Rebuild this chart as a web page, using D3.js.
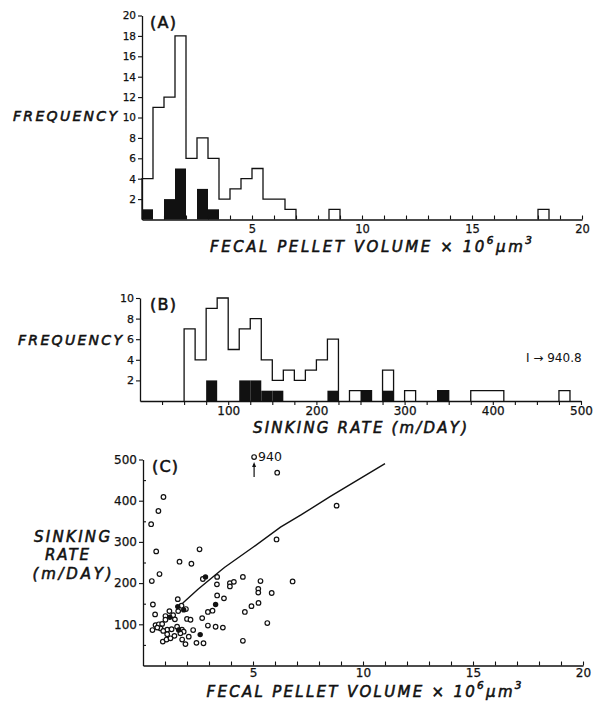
<!DOCTYPE html>
<html>
<head>
<meta charset="utf-8">
<script src="https://cdn.jsdelivr.net/npm/d3@7"></script>
<style>
  body { margin: 0; background: #fff; }
  svg { display: block; }
  .tick text { font-family: "DejaVu Sans", sans-serif; fill: #111; stroke: #111; stroke-width: 0.25px; }
  .title { font-family: "DejaVu Sans", sans-serif; font-style: italic; fill: #111; stroke: #111; stroke-width: 0.55px; }
</style>
</head>
<body>
<script>
// (A) fecal pellet volume histogram, bins of 0.5 x 10^6 um^3
const volBinWidth = 0.5;
const volBinLo = [0, 0.5, 1, 1.5, 2, 2.5, 3, 3.5, 4, 4.5, 5, 5.5, 6, 6.5, 8.5, 18];
const volAll   = [4, 11, 12, 18, 6, 8, 6, 2, 3, 4, 5, 2, 2, 1, 1, 1];
const volBlack = [1, 0, 2, 5, 0, 3, 1, 0, 0, 0, 0, 0, 0, 0, 0, 0];

// (B) sinking rate histogram, bins of 12.5 m/day
const rateBinWidth = 12.5;
const rateBinLo = [50, 62.5, 75, 87.5, 100, 112.5, 125, 137.5, 150, 162.5, 175, 187.5, 200, 212.5,
  237.5, 250, 275, 300, 337.5, 375, 387.5, 400, 475];
const rateAll   = [7, 4, 9, 10, 5, 7, 8, 4, 2, 3, 2, 3, 4, 6, 1, 1, 3, 1, 1, 1, 1, 1, 1];
const rateBlack = [0, 0, 2, 0, 0, 2, 2, 1, 1, 0, 0, 0, 0, 1, 0, 1, 1, 0, 1, 0, 0, 0, 0];

// (C) sinking rate vs volume
const openPoints = [
  [6.1, 468], [0.93, 409], [0.70, 375], [0.37, 343], [0.60, 277], [0.75, 222], [0.40, 205],
  [1.66, 252], [2.2, 247], [2.57, 282], [2.72, 210], [3.37, 215], [3.36, 197], [3.37, 170],
  [3.68, 163], [2.95, 130], [3.16, 133], [2.69, 115], [2.95, 97], [3.3, 94], [3.63, 92],
  [2.43, 55], [2.75, 54], [3.95, 200], [3.95, 192], [4.13, 203], [4.54, 215], [4.63, 130],
  [4.54, 60], [4.93, 144], [5.24, 186], [5.24, 177], [5.34, 205], [5.25, 152], [5.85, 176],
  [5.65, 103], [6.8, 204], [6.07, 306], [8.8, 388],
  [0.45, 148], [0.55, 124], [1.58, 161], [1.2, 132], [1.75, 145], [1.95, 137], [1.37, 122],
  [1.02, 120], [2.0, 113], [2.16, 111], [0.43, 86], [0.57, 98], [0.72, 100], [0.87, 101],
  [1.02, 111], [0.8, 90], [1.1, 87], [1.3, 88], [1.55, 94], [1.77, 87], [1.85, 82], [2.28, 86],
  [0.9, 58], [1.07, 63], [1.25, 66], [1.43, 72], [1.78, 63], [1.93, 52], [2.08, 70], [1.1, 76],
  [1.7, 78], [0.92, 84], [1.6, 132], [1.45, 112], [0.65, 92]
];
const filledPoints = [[2.84, 215], [3.3, 148], [2.6, 75], [1.22, 117], [1.58, 143], [1.85, 135], [1.62, 86]];
const outlier = { x: 5.05, value: 940, plotAt: 506 };
const fitLine = [[1.8, 151], [2.5, 185], [3.45, 227], [3.7, 238], [5, 287], [6.25, 336], [7.2, 366], [8.5, 410], [11, 490]];

const volTicks = d3.range(1, 21);
const volLabels = [5, 10, 15, 20];
const freqATicks = [2, 4, 6, 8, 10, 12, 14, 16, 18, 20];
const freqBTicks = [2, 4, 6, 8, 10];
const rateTicks = d3.range(25, 501, 25);
const rateLabels = [100, 200, 300, 400, 500];
const sinkTicks = d3.range(50, 501, 50);
const sinkLabels = [100, 200, 300, 400, 500];

const ink = "#111";

let svg = d3.select("body").append("svg")
  .attr("width", 596)
  .attr("height", 703);

svg.append("rect").attr("width", 596).attr("height", 703).attr("fill", "#fff");

// scales
let xA = d3.scaleLinear().domain([0, 20]).range([142, 582]);
let yA = d3.scaleLinear().domain([0, 20]).range([219.5, 15.5]);
let xB = d3.scaleLinear().domain([0, 500]).range([140, 581]);
let yB = d3.scaleLinear().domain([0, 10]).range([401, 298]);
let xC = d3.scaleLinear().domain([0, 20]).range([143, 583]);
let yC = d3.scaleLinear().domain([0, 500]).range([665.5, 459.5]);

function styleAxis(g, size) {
  g.selectAll("path").attr("stroke", ink).attr("stroke-width", 1.3);
  g.selectAll("line").attr("stroke", ink).attr("stroke-width", 1.1);
  g.selectAll("text").style("font-size", size + "px");
}

function stepPath(lo, counts, w, x, y) {
  let d = "";
  for (let i = 0; i < lo.length; i++) {
    const newRun = i === 0 || Math.abs(lo[i] - (lo[i - 1] + w)) > 1e-9;
    if (newRun) {
      if (i > 0) d += "V" + y(0);
      d += "M" + x(lo[i]) + "," + y(0);
    }
    d += "V" + y(counts[i]) + "H" + x(lo[i] + w);
  }
  return d + "V" + y(0);
}

function histogram(lo, all, black, w, x, y) {
  let bars = lo.map((d, i) => ({ lo: d, n: black[i] })).filter(d => d.n > 0);
  svg.append("g").selectAll("rect")
    .data(bars)
    .enter().append("rect")
    .attr("x", d => x(d.lo))
    .attr("width", d => x(d.lo + w) - x(d.lo))
    .attr("y", d => y(d.n))
    .attr("height", d => y(0) - y(d.n))
    .attr("fill", ink);
  svg.append("path")
    .attr("d", stepPath(lo, all, w, x, y))
    .attr("fill", "none")
    .attr("stroke", ink)
    .attr("stroke-width", 1.3);
}

function title(x, y, size, len, parts) {
  let t = svg.append("text")
    .attr("class", "title")
    .attr("x", x)
    .attr("y", y)
    .attr("text-anchor", "middle")
    .attr("dominant-baseline", "middle")
    .style("font-size", size + "px");
  if (len) t.attr("textLength", len).attr("lengthAdjust", "spacing");
  parts.forEach(p => {
    let s = t.append("tspan").text(p.text);
    if (p.sup) s.attr("baseline-shift", "super").style("font-size", (size * 0.7) + "px");
  });
  return t;
}

const volumeTitle = [
  { text: "FECAL PELLET VOLUME × 10" }, { text: "6", sup: true }, { text: "µm" }, { text: "3", sup: true }
];

// ---------- panel A ----------
histogram(volBinLo, volAll, volBlack, volBinWidth, xA, yA);

svg.append("g")
  .attr("transform", "translate(" + xA(0) + ",0)")
  .call(d3.axisLeft(yA).tickValues(freqATicks).tickSize(4).tickSizeOuter(0).tickPadding(2))
  .call(g => styleAxis(g, 10.5));

svg.append("g")
  .attr("transform", "translate(0," + yA(0) + ")")
  .call(d3.axisBottom(xA).tickValues(volTicks).tickSize(-4).tickSizeOuter(0).tickPadding(5)
    .tickFormat(d => volLabels.includes(d) ? d : ""))
  .call(g => styleAxis(g, 11.5));

title(163, 23, 16, 26, [{ text: "(A)" }]).style("font-style", "normal");
title(65, 117, 14, 104, [{ text: "FREQUENCY" }]);
title(371, 247, 15, 322, volumeTitle);

// ---------- panel B ----------
histogram(rateBinLo, rateAll, rateBlack, rateBinWidth, xB, yB);

svg.append("g")
  .attr("transform", "translate(" + xB(0) + ",0)")
  .call(d3.axisLeft(yB).tickValues(freqBTicks).tickSize(4).tickSizeOuter(0).tickPadding(2))
  .call(g => styleAxis(g, 11));

svg.append("g")
  .attr("transform", "translate(0," + yB(0) + ")")
  .call(d3.axisBottom(xB).tickValues(rateTicks).tickSize(4).tickSizeOuter(0).tickPadding(1)
    .tickFormat(d => rateLabels.includes(d) ? d : ""))
  .call(g => styleAxis(g, 12));

title(163, 305, 16, 26, [{ text: "(B)" }]).style("font-style", "normal");
title(70, 341, 14, 104, [{ text: "FREQUENCY" }]);
title(360, 428, 15, 214, [{ text: "SINKING RATE (m/DAY)" }]);

svg.append("text")
  .attr("x", 526)
  .attr("y", 358)
  .attr("dominant-baseline", "middle")
  .style("font-family", "DejaVu Sans, sans-serif")
  .style("font-size", "12px")
  .attr("fill", ink)
  .text("I → " + "940.8");

// ---------- panel C ----------
svg.append("g")
  .attr("transform", "translate(" + xC(0) + ",0)")
  .call(d3.axisLeft(yC).tickValues(sinkTicks).tickSize(4).tickSizeOuter(0).tickPadding(2)
    .tickFormat(d => sinkLabels.includes(d) ? d : ""))
  .call(g => g.selectAll(".tick").filter(d => !sinkLabels.includes(d)).select("line").attr("x2", 3))
  .call(g => styleAxis(g, 12));

svg.append("g")
  .attr("transform", "translate(0," + yC(0) + ")")
  .call(d3.axisBottom(xC).tickValues(volTicks).tickSize(-4).tickSizeOuter(0).tickPadding(3)
    .tickFormat(d => volLabels.includes(d) ? d : ""))
  .call(g => styleAxis(g, 12));

svg.append("path")
  .datum(fitLine)
  .attr("d", d3.line().x(d => xC(d[0])).y(d => yC(d[1])))
  .attr("fill", "none")
  .attr("stroke", ink)
  .attr("stroke-width", 1.4);

svg.append("g").selectAll("circle.open")
  .data(openPoints)
  .enter().append("circle")
  .attr("class", "open")
  .attr("cx", d => xC(d[0]))
  .attr("cy", d => yC(d[1]))
  .attr("r", 2.3)
  .attr("fill", "#fff")
  .attr("stroke", ink)
  .attr("stroke-width", 1.2);

svg.append("g").selectAll("circle.filled")
  .data(filledPoints)
  .enter().append("circle")
  .attr("class", "filled")
  .attr("cx", d => xC(d[0]))
  .attr("cy", d => yC(d[1]))
  .attr("r", 2.7)
  .attr("fill", ink);

// off-scale point with arrow
let ox = xC(outlier.x), oy = yC(outlier.plotAt);
svg.append("circle")
  .attr("cx", ox).attr("cy", oy).attr("r", 2.3)
  .attr("fill", "#fff").attr("stroke", ink).attr("stroke-width", 1.2);
svg.append("line")
  .attr("x1", ox).attr("x2", ox).attr("y1", oy + 20).attr("y2", oy + 7)
  .attr("stroke", ink).attr("stroke-width", 1.2);
svg.append("path")
  .attr("d", "M" + (ox - 2) + "," + (oy + 10) + "L" + ox + "," + (oy + 5) + "L" + (ox + 2) + "," + (oy + 10) + "Z")
  .attr("fill", ink);
svg.append("text")
  .attr("x", ox + 4)
  .attr("y", oy)
  .attr("dominant-baseline", "middle")
  .style("font-family", "DejaVu Sans, sans-serif")
  .style("font-size", "12.5px")
  .attr("fill", ink)
  .text(outlier.value);

title(165, 467, 16, 26, [{ text: "(C)" }]).style("font-style", "normal");
title(72, 537, 15, 76, [{ text: "SINKING" }]);
title(67, 555, 15, 44, [{ text: "RATE" }]);
title(72, 574, 15, 79, [{ text: "(m/DAY)" }]);
title(364, 692, 15, 315, volumeTitle);
</script>
</body>
</html>
